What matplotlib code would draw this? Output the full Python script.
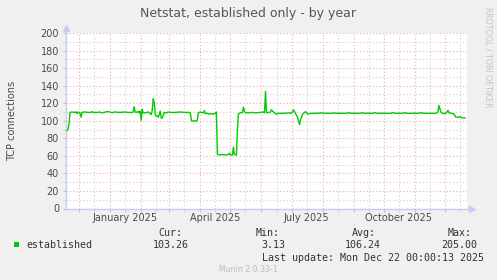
import numpy as np
import pandas as pd
import matplotlib
matplotlib.use("Agg")
import matplotlib.pyplot as plt
import matplotlib.dates as mdates
from matplotlib.patches import Rectangle
from matplotlib.ticker import MultipleLocator, FuncFormatter

# Werte (Tagesmittel, grob)
dates = [
    "2024-11-19", "2024-11-20", "2024-11-21", "2024-11-22", "2024-11-24", "2024-11-26",
    "2024-11-28", "2024-11-29", "2024-11-30", "2024-12-01", "2024-12-02", "2024-12-03",
    "2024-12-04", "2024-12-07", "2024-12-10", "2024-12-13", "2024-12-14", "2024-12-15",
    "2024-12-19", "2024-12-22", "2024-12-23", "2024-12-26", "2024-12-29", "2025-01-01",
    "2025-01-03", "2025-01-05", "2025-01-11", "2025-01-16", "2025-01-19", "2025-01-23",
    "2025-01-24", "2025-01-25", "2025-01-26", "2025-01-27", "2025-01-29", "2025-01-30",
    "2025-01-31", "2025-02-01", "2025-02-02", "2025-02-03", "2025-02-05", "2025-02-08",
    "2025-02-10", "2025-02-11", "2025-02-12", "2025-02-13", "2025-02-14", "2025-02-15",
    "2025-02-16", "2025-02-17", "2025-02-18", "2025-02-19", "2025-02-20", "2025-02-21",
    "2025-02-22", "2025-02-23", "2025-02-24", "2025-02-26", "2025-02-28", "2025-03-02",
    "2025-03-07", "2025-03-12", "2025-03-17", "2025-03-21", "2025-03-22", "2025-03-23",
    "2025-03-24", "2025-03-26", "2025-03-28", "2025-03-29", "2025-03-30", "2025-04-01",
    "2025-04-04", "2025-04-05", "2025-04-06", "2025-04-08", "2025-04-10", "2025-04-12",
    "2025-04-14", "2025-04-16", "2025-04-17", "2025-04-18", "2025-04-19", "2025-04-23",
    "2025-04-26", "2025-04-29", "2025-04-30", "2025-05-01", "2025-05-03", "2025-05-04",
    "2025-05-05", "2025-05-07", "2025-05-08", "2025-05-09", "2025-05-11", "2025-05-13",
    "2025-05-14", "2025-05-15", "2025-05-16", "2025-05-19", "2025-05-23", "2025-05-26",
    "2025-05-31", "2025-06-03", "2025-06-04", "2025-06-05", "2025-06-06", "2025-06-08",
    "2025-06-10", "2025-06-11", "2025-06-12", "2025-06-14", "2025-06-16", "2025-06-18",
    "2025-06-24", "2025-06-29", "2025-07-01", "2025-07-03", "2025-07-05", "2025-07-07",
    "2025-07-09", "2025-07-10", "2025-07-12", "2025-07-15", "2025-07-17", "2025-07-20",
    "2025-07-28", "2025-07-30", "2025-08-01", "2025-08-10", "2025-08-12", "2025-08-14",
    "2025-08-25", "2025-08-27", "2025-08-29", "2025-09-08", "2025-09-10", "2025-09-12",
    "2025-09-20", "2025-09-22", "2025-09-24", "2025-10-08", "2025-10-10", "2025-10-12",
    "2025-10-20", "2025-10-22", "2025-10-24", "2025-11-05", "2025-11-07", "2025-11-09",
    "2025-11-22", "2025-11-24", "2025-11-25", "2025-11-27", "2025-11-29", "2025-12-02",
    "2025-12-04", "2025-12-05", "2025-12-08", "2025-12-10", "2025-12-12", "2025-12-14",
    "2025-12-16", "2025-12-18", "2025-12-20", "2025-12-21",
]
established = [
    89, 90, 96, 109.5, 110, 109.5,
    110, 108, 110, 109.5, 108.5, 104,
    109.5, 110, 109.5, 109.5, 110.5, 109.5,
    109.5, 110, 109, 109.5, 110.5, 110,
    109, 110, 109.5, 110, 109.5, 109.5,
    110, 116, 110, 109.5, 110.5, 109,
    111, 100.5, 113, 109, 109, 110,
    108, 107, 112, 125, 121, 107,
    105, 106, 104, 107, 111, 103,
    103, 106, 109.5, 109, 110, 109.5,
    109.5, 110, 109.5, 109.5, 109, 100.5,
    99.5, 100, 99.5, 101, 109, 110,
    109, 111.5, 108, 108.5, 107.5, 108,
    107.5, 108.5, 110, 62, 61, 61.5,
    61, 61.5, 63, 61, 61, 70,
    61.5, 61, 90, 108, 109, 109.5,
    115.5, 111, 109, 109, 109.5, 109,
    109.5, 110, 109, 133.5, 109, 109.5,
    110, 112.5, 111, 109, 107.5, 108.5,
    108.5, 109, 108.5, 112.5, 108, 104,
    95.5, 101, 107.5, 110.5, 107.5, 108.5,
    108.5, 109.3, 108.5, 108.5, 109.2, 108.5,
    108.5, 109.3, 108.5, 108.5, 109.2, 108.5,
    108.5, 109.3, 108.5, 108.5, 109.2, 108.5,
    108.5, 109.2, 108.5, 108.5, 109.3, 108.5,
    108.5, 110, 117.5, 110, 108, 108.5,
    112, 109, 108.5, 107.5, 104, 104,
    104.5, 103.5, 103, 103.26,
]

stat_labels = ["Cur:", "Min:", "Avg:", "Max:"]
stat_values = ["103.26", "3.13", "106.24", "205.00"]
series_name = "established"
last_update = "Last update: Mon Dec 22 00:00:13 2025"

W, H = 497, 280
BG = "#f0f0f0"
RED = "#f2a8a8"
GRAY = "#cfcfcf"
AXC = "#c8ccf4"
TXT = "#4a4a4a"


def fx(x):
    return x / W


def fy(y):
    return 1 - y / H


fig = plt.figure(figsize=(W / 100, H / 100), dpi=100, facecolor=BG)
ax = fig.add_axes([fx(66), fy(208.5), (467 - 66) / W, (208.5 - 33) / H])
ax.set_facecolor("white")

t = pd.to_datetime(dates)
ax.plot(t, established, color="#00cc00", lw=1.0, zorder=3)

ax.set_xlim(pd.Timestamp("2024-11-18"), pd.Timestamp("2024-11-18") + pd.Timedelta(days=400))
ax.set_ylim(0, 200)

# y gitter
ax.yaxis.set_major_locator(MultipleLocator(20))
ax.yaxis.set_minor_locator(MultipleLocator(10))
# x gitter: monatsanfang rot, monatsmitte grau
ax.xaxis.set_major_locator(mdates.MonthLocator(bymonthday=1))
ax.xaxis.set_minor_locator(mdates.MonthLocator(bymonthday=16))
ax.xaxis.set_major_formatter(FuncFormatter(lambda v, p: ""))


def month_label(v, p):
    d = mdates.num2date(v)
    if d.month in (1, 4, 7, 10):
        return d.strftime("%B %Y")
    return ""


ax.xaxis.set_minor_formatter(FuncFormatter(month_label))

ax.grid(which="major", color=RED, linestyle=(0, (1, 2)), lw=0.8)
ax.grid(which="minor", color=GRAY, linestyle=(0, (1, 2)), lw=0.8)
ax.set_axisbelow(True)

ax.tick_params(axis="y", which="major", length=2, color=RED, labelsize=7, labelcolor=TXT, pad=3)
ax.tick_params(axis="y", which="minor", length=2, color=GRAY)
ax.tick_params(axis="x", which="major", length=2, color=RED, pad=1)
ax.tick_params(axis="x", which="minor", length=2, color=GRAY, labelsize=7, labelcolor=TXT, pad=1.5)

for s in ["top", "right"]:
    ax.spines[s].set_visible(False)
for s in ["left", "bottom"]:
    ax.spines[s].set_color(AXC)
    ax.spines[s].set_linewidth(1)

# pfeile an den achsen
ax.plot([1, 1.012], [0, 0], color=AXC, lw=1, transform=ax.transAxes, clip_on=False)
ax.plot([1.012], [0], marker=">", ms=4, color=AXC, transform=ax.transAxes, clip_on=False)
ax.plot([0, 0], [1, 1.03], color=AXC, lw=1, transform=ax.transAxes, clip_on=False)
ax.plot([0], [1.03], marker="^", ms=4, color=AXC, transform=ax.transAxes, clip_on=False)

fig.text(fx(248.5), fy(13), "Netstat, established only - by year", ha="center", va="center",
         fontsize=9, color="#555555")
fig.text(fx(12), fy(120.5), "TCP connections", rotation=90, ha="center", va="center",
         fontsize=7, color=TXT)
fig.text(fx(488), fy(57), "RRDTOOL / TOBI OETIKER", rotation=270, ha="center", va="center",
         fontsize=5.7, color="#c4c4c4")

# legende
mono = dict(family="DejaVu Sans Mono", fontsize=7.2, color="#333333", va="center")
for lab, xl in zip(stat_labels, [158, 255.7, 351.7, 447.3]):
    fig.text(fx(xl), fy(233), lab, ha="left", **mono)
for val, xr in zip(stat_values, [188.3, 285, 381, 477.3]):
    fig.text(fx(xr), fy(245), val, ha="right", **mono)
fig.text(fx(26.7), fy(245), series_name, ha="left", **mono)
fig.text(fx(261.7), fy(257.7), last_update, ha="left", **mono)
fig.patches.append(Rectangle((fx(14), fy(246.7)), 5.3 / W, 5 / H, transform=fig.transFigure,
                             facecolor="#00cc00", edgecolor="none"))
fig.text(fx(248.5), fy(269.3), "Munin 2.0.33-1", ha="center", va="center", fontsize=5.6,
         color="#bbbbbb")

fig.savefig("out.png", dpi=100, facecolor=BG)
